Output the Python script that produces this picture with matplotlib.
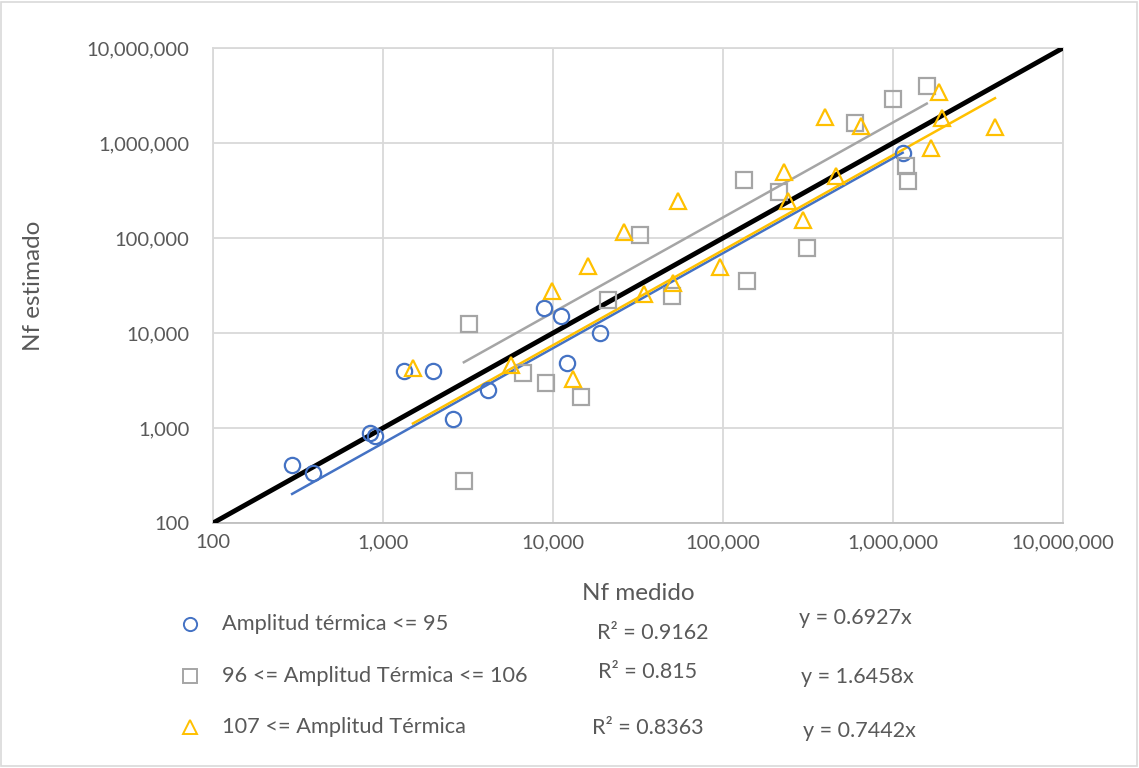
import numpy as np
import matplotlib.pyplot as plt
from matplotlib.ticker import FuncFormatter, FixedLocator
from matplotlib.patches import Rectangle

plt.rcParams['font.family'] = ['Lato', 'DejaVu Sans']

# datos
blue_x = [292, 387, 840, 901, 1330, 1967, 2580, 4150, 8850, 11100, 12100, 18900, 1140000]
blue_y = [408, 336, 885, 818, 3980, 3980, 1245, 2510, 18300, 15100, 4830, 10000, 790000]

gray_x = [2990, 3210, 6660, 9100, 14600, 21100, 32500, 50100, 133000, 138000,
          213000, 312000, 597000, 1000000, 1190000, 1220000, 1580000]
gray_y = [277, 12400, 3790, 2980, 2120, 22200, 107700, 24500, 408000, 35200,
          305000, 78500, 1620000, 2900000, 573000, 398000, 3980000]

yel_x = [1500, 5660, 9840, 13100, 16000, 26200, 34400, 50800, 54600, 95900,
         229000, 242000, 297000, 398000, 460000, 649000, 1670000, 1870000, 1950000, 3980000]
yel_y = [4280, 4600, 27900, 3260, 50700, 115600, 25800, 33400, 247000, 49900,
         499000, 247000, 155000, 1860000, 453000, 1510000, 879000, 3470000, 1820000, 1460000]

series = ['Amplitud térmica <= 95', '96 <= Amplitud Térmica <= 106', '107 <= Amplitud Térmica']
slopes = [0.6927, 1.6458, 0.7442]
r2 = [0.9162, 0.815, 0.8363]

colors = ['#4472C4', '#A5A5A5', '#FFC000']
markers = ['o', 's', '^']

fig = plt.figure(figsize=(11.39, 7.68), dpi=100)
ax = fig.add_axes([213 / 1139, 1 - 523 / 768, 850 / 1139, 475 / 768])

data = [(blue_x, blue_y), (gray_x, gray_y), (yel_x, yel_y)]

# línea 1:1
ax.plot([100, 1e7], [100, 1e7], color='black', lw=3.5, zorder=4, solid_capstyle='butt')

for (xs, ys), c, m, k in zip(data, colors, markers, slopes):
    ax.plot(xs, ys, ls='none', marker=m, ms=11, mfc='none', mec=c, mew=1.6, zorder=5)
    xl = np.array([min(xs), max(xs)])
    ax.plot(xl, k * xl, color=c, lw=1.8, zorder=3)

ax.set_xscale('log')
ax.set_yscale('log')
ax.set_xlim(100, 1e7)
ax.set_ylim(100, 1e7)
ticks = [10 ** i for i in range(2, 8)]
ax.xaxis.set_major_locator(FixedLocator(ticks))
ax.yaxis.set_major_locator(FixedLocator(ticks))
ax.xaxis.set_minor_locator(FixedLocator([]))
ax.yaxis.set_minor_locator(FixedLocator([]))
fmt = FuncFormatter(lambda v, p: f'{int(round(v)):,}')
ax.xaxis.set_major_formatter(fmt)
ax.yaxis.set_major_formatter(fmt)
ax.tick_params(length=0, labelsize=14.5, colors='#595959')
ax.tick_params(axis='y', pad=17)
ax.tick_params(axis='x', pad=8)
ax.grid(True, color='#D9D9D9', lw=1.3)
ax.set_axisbelow(True)
for s in ax.spines.values():
    s.set_color('#D9D9D9')
    s.set_linewidth(1.3)
ax.spines['bottom'].set_color('#BFBFBF')

fig.text(33 / 1139, 1 - 286 / 768, 'Nf estimado', rotation=90, ha='center', va='center',
         fontsize=17.5, color='#595959')
fig.text(638 / 1139, 1 - 594 / 768, 'Nf medido', ha='center', va='center',
         fontsize=17.5, color='#595959')

# leyenda manual y ecuaciones
row_y = [624, 676, 727]
r2_pos = [(653, 633), (648, 672), (648, 728)]
eq_pos = [(855, 618), (857, 677), (859, 731)]
for i in range(3):
    fig.lines.append(plt.Line2D([190 / 1139], [1 - row_y[i] / 768], marker=markers[i], ms=9.5,
                                mfc='none', mec=colors[i], mew=1.4, ls='none',
                                transform=fig.transFigure))
    fig.text(222 / 1139, 1 - row_y[i] / 768, series[i], ha='left', va='center',
             fontsize=15.7, color='#595959')
    fig.text(r2_pos[i][0] / 1139, 1 - r2_pos[i][1] / 768, f'R² = {r2[i]}', ha='center',
             va='center', fontsize=15.5, color='#595959')
    fig.text(eq_pos[i][0] / 1139, 1 - eq_pos[i][1] / 768, f'y = {slopes[i]}x', ha='center',
             va='center', fontsize=15.5, color='#595959')

fig.patches.append(Rectangle((0.001, 0.002), 0.997, 0.996, transform=fig.transFigure,
                             fill=False, edgecolor='#D9D9D9', lw=1.2))

fig.savefig('out.png', dpi=100)
